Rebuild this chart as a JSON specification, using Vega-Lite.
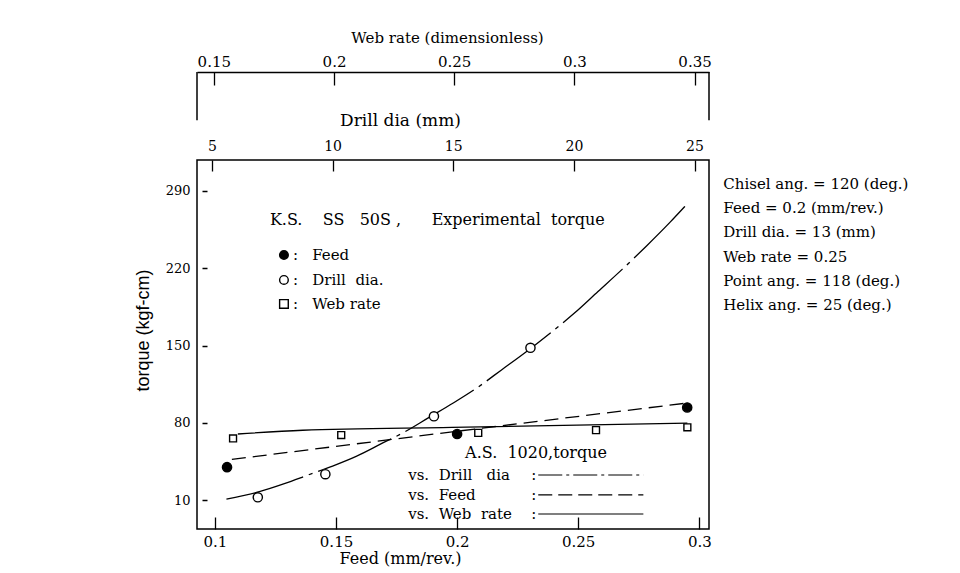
{
  "$schema": "https://vega.github.io/schema/vega-lite/v6.json",
  "width": 512,
  "height": 369,
  "autosize": "none",
  "padding": {"left": 197, "top": 160, "right": 251, "bottom": 44},
  "background": "white",
  "config": {
    "view": {"stroke": "black", "strokeWidth": 1.5},
    "axis": {
      "labelFont": "DejaVu Serif",
      "titleFont": "DejaVu Serif",
      "labelColor": "black",
      "titleColor": "black",
      "tickColor": "black",
      "domainColor": "black",
      "grid": false,
      "labelFontSize": 15,
      "titleFontSize": 16,
      "titleFontWeight": "normal",
      "tickWidth": 1.3
    },
    "text": {"font": "DejaVu Serif", "color": "black"}
  },
  "datasets": {
    "feed_pts": [
      {"feed": 0.105, "torque": 40, "series": "Feed"},
      {"feed": 0.2, "torque": 70, "series": "Feed"},
      {"feed": 0.295, "torque": 94, "series": "Feed"}
    ],
    "feed_curve": [
      {"feed": 0.107, "torque": 47},
      {"feed": 0.2, "torque": 72.5},
      {"feed": 0.295, "torque": 98}
    ],
    "drill_pts": [
      {"dia": 6.9, "torque": 12.7, "series": "Drill dia"},
      {"dia": 9.7, "torque": 33.6, "series": "Drill dia"},
      {"dia": 14.2, "torque": 86, "series": "Drill dia"},
      {"dia": 18.2, "torque": 148, "series": "Drill dia"}
    ],
    "drill_curve": [
      {"dia": 5.6, "torque": 11},
      {"dia": 7.0, "torque": 18},
      {"dia": 8.0, "torque": 25},
      {"dia": 9.0, "torque": 33},
      {"dia": 10.0, "torque": 41},
      {"dia": 11.0, "torque": 50},
      {"dia": 12.0, "torque": 61},
      {"dia": 13.0, "torque": 72},
      {"dia": 14.0, "torque": 85},
      {"dia": 15.0, "torque": 98},
      {"dia": 16.0, "torque": 112},
      {"dia": 17.0, "torque": 128},
      {"dia": 18.0, "torque": 144},
      {"dia": 19.0, "torque": 161},
      {"dia": 20.0, "torque": 179},
      {"dia": 21.0, "torque": 199},
      {"dia": 22.0, "torque": 219},
      {"dia": 23.0, "torque": 240},
      {"dia": 24.0, "torque": 262},
      {"dia": 24.6, "torque": 276}
    ],
    "web_pts": [
      {"web": 0.158, "torque": 66, "series": "Web rate"},
      {"web": 0.203, "torque": 69, "series": "Web rate"},
      {"web": 0.26, "torque": 71, "series": "Web rate"},
      {"web": 0.309, "torque": 73.5, "series": "Web rate"},
      {"web": 0.347, "torque": 76, "series": "Web rate"}
    ],
    "web_curve": [
      {"web": 0.16, "torque": 70},
      {"web": 0.187, "torque": 73.4},
      {"web": 0.249, "torque": 76},
      {"web": 0.347, "torque": 79.8}
    ],
    "web_ends": [
      {"web": 0.143},
      {"web": 0.356}
    ],
    "key_symbols": [
      {"feed": 0.1285, "torque": 232, "series": "Feed"},
      {"feed": 0.1285, "torque": 209.4, "series": "Drill dia"},
      {"feed": 0.1285, "torque": 187.7, "series": "Web rate"}
    ],
    "key_lines": [
      {"feed": 0.2335, "torque": 32.9, "series": "Drill dia"},
      {"feed": 0.2769, "torque": 32.9, "series": "Drill dia"},
      {"feed": 0.2335, "torque": 14.8, "series": "Feed"},
      {"feed": 0.2769, "torque": 14.8, "series": "Feed"},
      {"feed": 0.2335, "torque": -2.4, "series": "Web rate"},
      {"feed": 0.2769, "torque": -2.4, "series": "Web rate"}
    ],
    "notes": [
      {"feed": 0.3099, "torque": 296.3, "group": "params", "label": "Chisel ang. = 120 (deg.)"},
      {"feed": 0.3099, "torque": 274.6, "group": "params", "label": "Feed = 0.2 (mm/rev.)"},
      {"feed": 0.3099, "torque": 252.8, "group": "params", "label": "Drill dia. = 13 (mm)"},
      {"feed": 0.3099, "torque": 230.2, "group": "params", "label": "Web rate = 0.25"},
      {"feed": 0.3099, "torque": 208.5, "group": "params", "label": "Point ang. = 118 (deg.)"},
      {"feed": 0.3099, "torque": 186.8, "group": "params", "label": "Helix ang. = 25 (deg.)"},
      {"feed": 0.1227, "torque": 263.7, "group": "head", "label": "K.S.\u00a0\u00a0\u00a0\u00a0SS\u00a0\u00a0\u00a050S\u00a0,\u00a0\u00a0\u00a0\u00a0\u00a0\u00a0Experimental\u00a0\u00a0torque"},
      {"feed": 0.1322, "torque": 232, "group": "key", "label": ":\u00a0\u00a0\u00a0Feed"},
      {"feed": 0.1322, "torque": 209.4, "group": "key", "label": ":\u00a0\u00a0\u00a0Drill\u00a0\u00a0dia."},
      {"feed": 0.1322, "torque": 187.7, "group": "key", "label": ":\u00a0\u00a0\u00a0Web rate"},
      {"feed": 0.2033, "torque": 52.8, "group": "as", "label": "A.S.\u00a0\u00a01020,torque"},
      {"feed": 0.1798, "torque": 32.9, "group": "key", "label": "vs.\u00a0\u00a0Drill\u00a0\u00a0\u00a0dia"},
      {"feed": 0.1798, "torque": 14.8, "group": "key", "label": "vs.\u00a0\u00a0Feed"},
      {"feed": 0.1798, "torque": -2.4, "group": "key", "label": "vs.\u00a0\u00a0Web\u00a0\u00a0rate"},
      {"feed": 0.2306, "torque": 32.9, "group": "key", "label": ":"},
      {"feed": 0.2306, "torque": 14.8, "group": "key", "label": ":"},
      {"feed": 0.2306, "torque": -2.4, "group": "key", "label": ":"}
    ]
  },
  "layer": [
    {
      "layer": [
        {
          "data": {"name": "feed_curve"},
          "mark": {"type": "line", "color": "black", "strokeWidth": 1.3, "strokeDash": [14, 7]},
          "encoding": {
            "x": {
              "field": "feed", "type": "quantitative",
              "scale": {"domain": [0.0926, 0.304], "nice": false, "zero": false},
              "axis": {
                "orient": "bottom", "values": [0.1, 0.15, 0.2, 0.25, 0.3], "format": "~g",
                "tickSize": -12, "labelPadding": 17, "domain": false,
                "title": "Feed (mm/rev.)", "titleFontSize": 16, "titleX": 203, "titleY": 29,
                "titleAlign": "center", "titleBaseline": "middle"
              }
            },
            "y": {
              "field": "torque", "type": "quantitative",
              "scale": {"domain": [-16, 318], "nice": false, "zero": false},
              "axis": {
                "values": [10, 80, 150, 220, 290], "tickSize": -12, "tickDash": [0, 5, 5, 100],
                "labelPadding": 19, "labelFontSize": 13, "domain": false,
                "title": "torque (kgf-cm)", "titleFont": "Liberation Sans", "titleFontSize": 18,
                "titleX": -54, "titleY": 170, "titleAngle": -90,
                "titleAlign": "center", "titleBaseline": "middle"
              }
            }
          }
        },
        {
          "data": {"name": "feed_pts"},
          "mark": {"type": "point", "filled": true, "size": 85, "stroke": "black", "strokeWidth": 1.4, "opacity": 1},
          "encoding": {
            "x": {"field": "feed", "type": "quantitative"},
            "y": {"field": "torque", "type": "quantitative"},
            "shape": {"field": "series", "type": "nominal", "scale": {"domain": ["Feed", "Drill dia", "Web rate"], "range": ["circle", "circle", "square"]}, "legend": null},
            "fill": {"field": "series", "type": "nominal", "scale": {"domain": ["Feed", "Drill dia", "Web rate"], "range": ["black", "white", "white"]}, "legend": null}
          }
        },
        {
          "data": {"name": "key_symbols"},
          "mark": {"type": "point", "filled": true, "size": 75, "stroke": "black", "strokeWidth": 1.4, "opacity": 1},
          "encoding": {
            "x": {"field": "feed", "type": "quantitative"},
            "y": {"field": "torque", "type": "quantitative"},
            "shape": {"field": "series", "type": "nominal", "legend": null},
            "fill": {"field": "series", "type": "nominal", "legend": null}
          }
        },
        {
          "data": {"name": "key_lines"},
          "transform": [{"filter": "datum.series === 'Drill dia'"}],
          "mark": {"type": "line", "color": "black", "strokeWidth": 1.2, "strokeDash": [24, 4, 3, 4]},
          "encoding": {
            "x": {"field": "feed", "type": "quantitative"},
            "y": {"field": "torque", "type": "quantitative"}
          }
        },
        {
          "data": {"name": "key_lines"},
          "transform": [{"filter": "datum.series === 'Feed'"}],
          "mark": {"type": "line", "color": "black", "strokeWidth": 1.2, "strokeDash": [14, 6]},
          "encoding": {
            "x": {"field": "feed", "type": "quantitative"},
            "y": {"field": "torque", "type": "quantitative"}
          }
        },
        {
          "data": {"name": "key_lines"},
          "transform": [{"filter": "datum.series === 'Web rate'"}],
          "mark": {"type": "line", "color": "black", "strokeWidth": 1.2},
          "encoding": {
            "x": {"field": "feed", "type": "quantitative"},
            "y": {"field": "torque", "type": "quantitative"}
          }
        },
        {
          "data": {"name": "notes"},
          "transform": [{"filter": "datum.group === 'params'"}],
          "mark": {"type": "text", "align": "left", "baseline": "middle", "fontSize": 15},
          "encoding": {
            "x": {"field": "feed", "type": "quantitative"},
            "y": {"field": "torque", "type": "quantitative"},
            "text": {"field": "label"}
          }
        },
        {
          "data": {"name": "notes"},
          "transform": [{"filter": "datum.group === 'key'"}],
          "mark": {"type": "text", "align": "left", "baseline": "middle", "fontSize": 15},
          "encoding": {
            "x": {"field": "feed", "type": "quantitative"},
            "y": {"field": "torque", "type": "quantitative"},
            "text": {"field": "label"}
          }
        },
        {
          "data": {"name": "notes"},
          "transform": [{"filter": "datum.group === 'head' || datum.group === 'as'"}],
          "mark": {"type": "text", "align": "left", "baseline": "middle", "fontSize": 16},
          "encoding": {
            "x": {"field": "feed", "type": "quantitative"},
            "y": {"field": "torque", "type": "quantitative"},
            "text": {"field": "label"}
          }
        }
      ]
    },
    {
      "layer": [
        {
          "data": {"name": "drill_curve"},
          "mark": {"type": "line", "color": "black", "strokeWidth": 1.3, "strokeDash": [80, 6, 4, 6], "interpolate": "monotone"},
          "encoding": {
            "x": {
              "field": "dia", "type": "quantitative",
              "scale": {"domain": [4.38, 25.6], "nice": false, "zero": false},
              "axis": {
                "orient": "top", "values": [5, 10, 15, 20, 25], "labelFontSize": 14,
                "tickSize": -11, "labelPadding": 18, "domain": false,
                "title": "Drill dia (mm)", "titleFontSize": 17, "titleX": 203, "titleY": -40,
                "titleAlign": "center", "titleBaseline": "middle"
              }
            },
            "y": {"field": "torque", "type": "quantitative"}
          }
        },
        {
          "data": {"name": "drill_pts"},
          "mark": {"type": "point", "filled": true, "size": 85, "stroke": "black", "strokeWidth": 1.4, "opacity": 1},
          "encoding": {
            "x": {"field": "dia", "type": "quantitative"},
            "y": {"field": "torque", "type": "quantitative"},
            "shape": {"field": "series", "type": "nominal", "legend": null},
            "fill": {"field": "series", "type": "nominal", "legend": null}
          }
        }
      ]
    },
    {
      "layer": [
        {
          "data": {"name": "web_curve"},
          "mark": {"type": "line", "color": "black", "strokeWidth": 1.3, "interpolate": "monotone"},
          "encoding": {
            "x": {
              "field": "web", "type": "quantitative",
              "scale": {"domain": [0.143, 0.356], "nice": false, "zero": false},
              "axis": {
                "orient": "top", "offset": 88, "values": [0.15, 0.2, 0.25, 0.3, 0.35], "format": "~g",
                "tickSize": -13, "labelPadding": 16, "domain": true, "domainWidth": 1.5,
                "title": "Web rate (dimensionless)", "titleFontSize": 15, "titleX": 250, "titleY": -35,
                "titleAlign": "center", "titleBaseline": "middle"
              }
            },
            "y": {"field": "torque", "type": "quantitative"}
          }
        },
        {
          "data": {"name": "web_pts"},
          "mark": {"type": "point", "filled": true, "size": 48, "stroke": "black", "strokeWidth": 1.4, "opacity": 1},
          "encoding": {
            "x": {"field": "web", "type": "quantitative"},
            "y": {"field": "torque", "type": "quantitative"},
            "shape": {"field": "series", "type": "nominal", "legend": null},
            "fill": {"field": "series", "type": "nominal", "legend": null}
          }
        },
        {
          "data": {"name": "web_ends"},
          "mark": {"type": "rule", "color": "black", "strokeWidth": 1.5},
          "encoding": {
            "x": {"field": "web", "type": "quantitative"},
            "y": {"datum": 354},
            "y2": {"datum": 397.7}
          }
        }
      ]
    }
  ],
  "resolve": {"scale": {"x": "independent"}, "axis": {"x": "independent"}}
}
